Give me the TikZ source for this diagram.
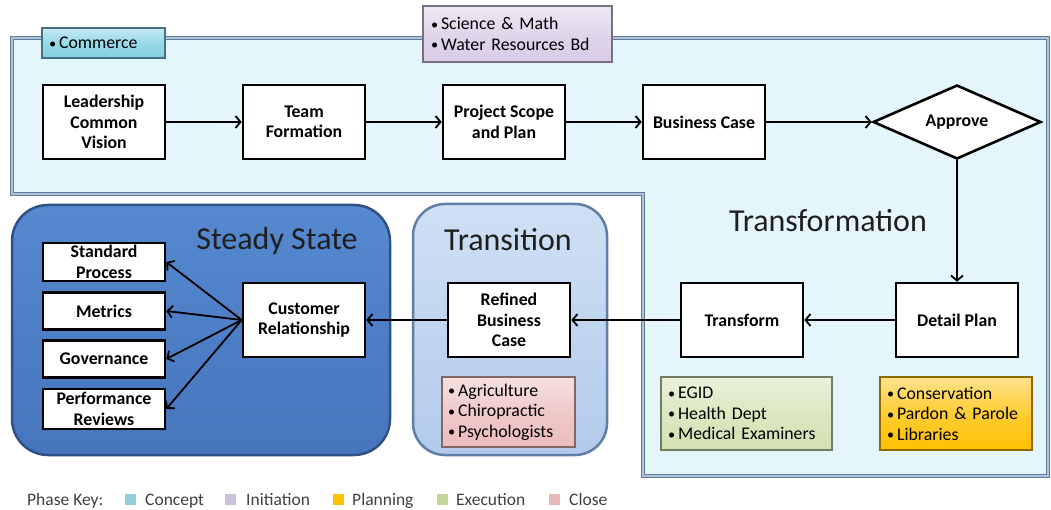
\documentclass[tikz,border=0pt]{standalone}
\usepackage{fontspec}
\setmainfont{Carlito}
\usetikzlibrary{arrows.meta,shapes.geometric}
\definecolor{regionfill}{HTML}{E4F6FB}
\definecolor{regionline}{HTML}{5E7A9C}
\definecolor{regionband}{HTML}{AFC2D8}
\definecolor{ssTop}{HTML}{5689D0}
\definecolor{ssBot}{HTML}{4675BC}
\definecolor{ssLine}{HTML}{2F5186}
\definecolor{trTop}{HTML}{CFE0F5}
\definecolor{trBot}{HTML}{B3CAEA}
\definecolor{trLine}{HTML}{5F7FA8}
\definecolor{keyCyan}{HTML}{92CDDC}
\definecolor{keyLav}{HTML}{CCC1DA}
\definecolor{keyYel}{HTML}{FFC000}
\definecolor{keyGrn}{HTML}{C3D69B}
\definecolor{keyPnk}{HTML}{E6B9B8}
\definecolor{tagCyan}{HTML}{7FD0E3}
\definecolor{tagLav}{HTML}{D8CCE6}
\definecolor{tagYel}{HTML}{FFC000}
\definecolor{tagGrn}{HTML}{D3E1B2}
\definecolor{tagPnk}{HTML}{EBBCBB}
\newcommand{\bul}{\raisebox{0.5pt}{\scalebox{0.8}{•}}\,}
\begin{document}
\begin{tikzpicture}[x=1pt,y=-1pt,
  procbox/.style={draw=black, line width=2.6pt, fill=white, minimum width=122pt,
    minimum height=74pt, align=center, inner sep=1pt,
    font=\fontsize{17.8}{20.5}\selectfont\bfseries},
  smallbox/.style={procbox, minimum height=37pt},
  conn/.style={line width=1.8pt, -{Straight Barb[length=5pt,width=12pt]}},
  tagbox/.style={draw=#1!55!black, line width=1.5pt, top color=#1!45, bottom color=#1,
    middle color=#1!80, align=left, inner xsep=8pt, inner ysep=2pt,
    font=\fontsize{17.8}{20.5}\selectfont},
  title/.style={font=\fontsize{32}{36}\selectfont, text=black!88},
  keytext/.style={font=\fontsize{17.5}{19}\selectfont, text=black!75, anchor=base west, inner sep=0pt},
  keysq/.style={minimum size=11pt, inner sep=0pt}
]
\useasboundingbox (0,0) rectangle (1051,510);
\fill[white] (0,0) rectangle (1051,510);

% Transformation region
\draw[regionline, line width=1pt, double=regionband, double distance=2pt, fill=regionfill]
  (12,38) -- (1048,38) -- (1048,476) -- (643,476) -- (643,194) -- (12,194) -- cycle;

% Steady State & Transition containers
\draw[ssLine, line width=2.5pt, top color=ssTop, bottom color=ssBot, rounded corners=36pt]
  (12,205) rectangle (390,455);
\draw[trLine, line width=2.5pt, top color=trTop, bottom color=trBot, rounded corners=32pt]
  (413,204) rectangle (607,455);

% titles
\node[title] (tSS) at (277,241) {Steady State};
\node[title] (tTR) at (508,240) {Transition};
\node[title] (tTF) at (828,221) {Transformation};

% tag boxes
\node[tagbox=tagCyan, minimum width=123pt, minimum height=30pt, text width=109pt, inner xsep=7pt] (commerce) at (103.5,43) {\bul Commerce};
\node[tagbox=tagLav, minimum width=189pt, minimum height=56pt, text width=173pt] (science) at (517.5,34) {\bul Science \& Math\\\bul Water Resources Bd};
\node[tagbox=tagPnk, minimum width=133pt, minimum height=70pt, text width=121pt, inner xsep=6pt] (agri) at (508.5,412) {\bul Agriculture\\\bul Chiropractic\\\bul Psychologists};
\node[tagbox=tagGrn, minimum width=171pt, minimum height=73pt, text width=157pt, inner xsep=7pt] (egid) at (746.5,413.5) {\bul EGID\\\bul Health Dept\\\bul Medical Examiners};
\node[tagbox=tagYel, minimum width=152pt, minimum height=73pt, text width=138pt, inner xsep=7pt] (cons) at (956,413.5) {\bul Conservation\\\bul Pardon \& Parole\\\bul Libraries};

% process nodes, top row
\node[procbox] (lead) at (104,122) {Leadership\\Common\\Vision};
\node[procbox] (team) at (304,122) {Team\\Formation};
\node[procbox] (scope) at (504,122) {Project Scope\\and Plan};
\node[procbox] (bcase) at (704,122) {Business Case};
\node[draw=black, line width=2.6pt, fill=white, diamond, aspect=2.25, minimum width=168pt,
  minimum height=74pt, inner sep=0pt, font=\fontsize{17.8}{20.5}\selectfont\bfseries] (approve) at (957,122) {Approve};

% lower row
\node[procbox] (detail) at (957,320) {Detail Plan};
\node[procbox] (transform) at (742,320) {Transform};
\node[procbox] (refined) at (509,320) {Refined\\Business\\Case};
\node[procbox] (customer) at (304,320) {Customer\\Relationship};

% steady state column
\node[smallbox, minimum height=38pt] (stdproc) at (104,262) {Standard\\Process};
\node[smallbox] (metrics) at (104,311) {Metrics};
\node[smallbox] (gov) at (104,359) {Governance};
\node[smallbox, minimum height=40pt] (perf) at (104,409) {Performance\\Reviews};

% connectors
\draw[conn] (lead) -- (team);
\draw[conn] (team) -- (scope);
\draw[conn] (scope) -- (bcase);
\draw[conn] (bcase) -- (approve);
\draw[conn] (approve) -- (detail);
\draw[conn] (detail) -- (transform);
\draw[conn] (transform) -- (refined);
\draw[conn] (refined) -- (customer);
\draw[conn] (customer.west) -- (stdproc.east);
\draw[conn] (customer.west) -- (metrics.east);
\draw[conn] (customer.west) -- (gov.east);
\draw[conn] (customer.west) -- (perf.east);

% phase key
\node[keytext] (pk) at (27,505) {Phase Key:};
\node[keysq, fill=keyCyan] (sq1) at (130,499) {};
\node[keytext] (k1) at (145,505) {Concept};
\node[keysq, fill=keyLav] (sq2) at (230,499) {};
\node[keytext] (k2) at (246,505) {Initiation};
\node[keysq, fill=keyYel] (sq3) at (338,499) {};
\node[keytext] (k3) at (352,505) {Planning};
\node[keysq, fill=keyGrn] (sq4) at (442,499) {};
\node[keytext] (k4) at (456,505) {Execution};
\node[keysq, fill=keyPnk] (sq5) at (554,499) {};
\node[keytext] (k5) at (569,505) {Close};
\end{tikzpicture}
\end{document}
